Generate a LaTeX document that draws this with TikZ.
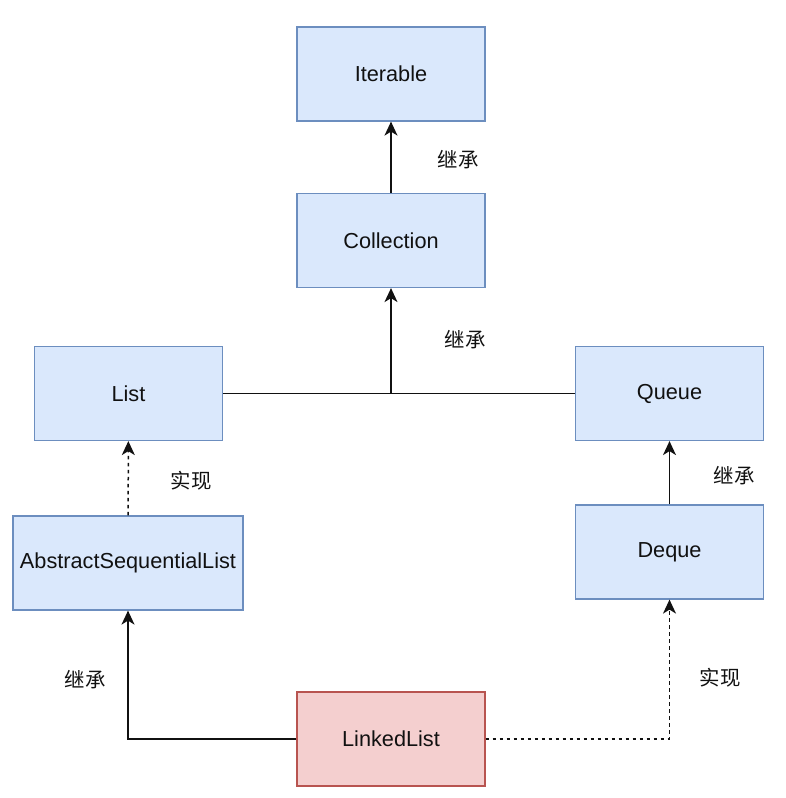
\documentclass[tikz,border=0pt]{standalone}
\usepackage{fontspec}
\setmainfont{Liberation Sans}
\newfontfamily\cjk{Noto Sans CJK SC}
\usetikzlibrary{arrows.meta}

\definecolor{boxfill}{HTML}{DAE8FC}
\definecolor{boxedge}{HTML}{6C8EBF}
\definecolor{redfill}{HTML}{F4CFCF}
\definecolor{rededge}{HTML}{B85450}
\definecolor{ink}{HTML}{111111}

\begin{document}
\begin{tikzpicture}[x=1bp,y=-1bp,
  cls/.style={draw=boxedge, fill=boxfill, line width=1.2bp, minimum width=188bp, minimum height=94bp, text=ink, font=\fontsize{21.8}{26}\selectfont},
  main/.style={cls, draw=rededge, fill=redfill},
  lbl/.style={text=ink, font=\cjk\fontsize{20.5}{24}\selectfont},
  inh/.style={-{Stealth[length=14bp,width=13bp,inset=4bp]}, line width=1.5bp, ink},
  impl/.style={inh, dash pattern=on 3.5bp off 3.5bp}]
% page size
\useasboundingbox (0,0) rectangle (786,798);

% classes and interfaces
\node[cls] (iter) at (391,74) {Iterable};
\node[cls] (coll) at (391,240.5) {Collection};
\node[cls] (list) at (128.5,393.5) {List};
\node[cls] (queue) at (669.5,393.5) {Queue};
\node[cls, minimum width=230bp] (asl) at (128,563) {AbstractSequentialList};
\node[cls] (deque) at (669.5,552) {Deque};
\node[main] (linked) at (391,739) {LinkedList};

% inheritance
\draw[inh] (coll) -- (iter);
\draw[line width=1.5bp, ink] (list) -- (queue);
\coordinate (join) at (coll.south |- list);
\draw[inh] (join) -- (coll);
\draw[inh] (deque) -- (queue);
\draw[inh] (linked.west) -| (asl);

% implementation
\draw[impl] (asl) -- (list);
\draw[impl] (linked.east) -| (deque);

% edge labels
\node[lbl] (l1) at (458,160) {继承};
\node[lbl] (l2) at (465,340) {继承};
\node[lbl] (l3) at (191,481) {实现};
\node[lbl] (l4) at (734,476) {继承};
\node[lbl] (l5) at (85,680) {继承};
\node[lbl] (l6) at (720,678) {实现};

\end{tikzpicture}
\end{document}
